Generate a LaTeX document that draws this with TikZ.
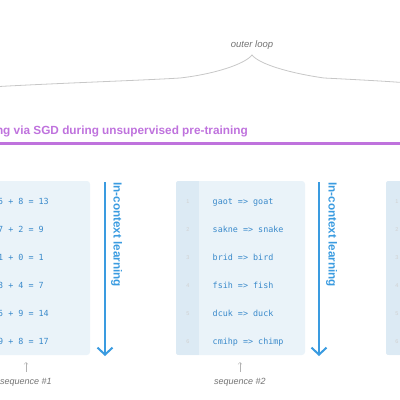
\documentclass[tikz,border=0pt]{standalone}
\usepackage{fontspec}
\setmainfont{Liberation Sans}
\setmonofont{DejaVu Sans Mono}
\usetikzlibrary{arrows.meta}
\definecolor{seqbg}{HTML}{EAF3F9}
\definecolor{numbg}{HTML}{DCEAF4}
\definecolor{codeblue}{HTML}{3A8ACB}
\definecolor{arrblue}{HTML}{3A9BE0}
\definecolor{sgdpurple}{HTML}{BF72DD}
\begin{document}
\begin{tikzpicture}[x=1pt,y=-1pt,
  seqbox/.style={fill=seqbg,rounded corners=3pt,minimum height=174pt,inner sep=0pt},
  row/.style={anchor=base west,inner sep=0pt,text=codeblue,font=\fontsize{8.4}{10}\ttfamily},
  lineno/.style={inner sep=0pt,text=black!18,font=\fontsize{5.5}{6}\selectfont},
  icl/.style={line width=2pt,draw=arrblue,-{Straight Barb[length=7pt,width=15pt]}},
  icltext/.style={rotate=-90,anchor=west,inner sep=0pt,text=arrblue,font=\fontsize{11.7}{13}\bfseries},
  seqarrow/.style={draw=black!30,line width=0.5pt,-{Straight Barb[length=2pt,width=4pt]}},
  seqname/.style={anchor=base,inner sep=0pt,text=black!55,font=\fontsize{9}{10}\itshape}]
\useasboundingbox (0,0) rectangle (400,400);
%外层循环
\node[anchor=base,inner sep=0pt,text=black!55,font=\fontsize{9.5}{11}\itshape] (outer) at (252,47.5) {outer loop};
\draw[black!22,line width=0.8pt] (-10,87) .. controls (60,83) and (140,80.5) .. (180,78)
  .. controls (215,74) and (245,64) .. (252,55)
  .. controls (259,64) and (289,73) .. (324,78)
  .. controls (364,80) and (400,82) .. (420,84);
%预训练
\node[anchor=base east,inner sep=0pt,text=sgdpurple,font=\fontsize{11.8}{13}\bfseries] (sgd) at (248,134) {ng via SGD during unsupervised pre-training};
\draw[sgdpurple,line width=3pt] (-10,143) -- (410,143);
%序列框
\node[seqbox,minimum width=160pt] (seq1) at (10,268) {};
\node[seqbox,minimum width=129pt] (seq2) at (240.5,268) {};
\node[seqbox,minimum width=129pt] (seq3) at (450.5,268) {};
\foreach \b in {seq2,seq3}{
  \begin{scope}
    \clip[rounded corners=3pt] (\b.north west) rectangle (\b.south east);
    \fill[numbg] (\b.north west) rectangle ([xshift=23pt]\b.south west);
  \end{scope}}
%序列内容
\foreach \t [count=\i] in {5 + 8 = 13,7 + 2 = 9,1 + 0 = 1,3 + 4 = 7,5 + 9 = 14,9 + 8 = 17}
  \node[row] (add\i) at (-2,{176.5+28*\i}) {\t};
\foreach \t [count=\i] in {gaot => goat,sakne => snake,brid => bird,fsih => fish,dcuk => duck,cmihp => chimp}
  \node[row] (word\i) at (212.5,{176.5+28*\i}) {\t};
\foreach \i in {1,...,6}{
  \node[lineno] (wnum\i) at (188,{173.5+28*\i}) {\i};
  \node[lineno] (znum\i) at (397,{173.5+28*\i}) {\i};}
%上下文学习
\coordinate (icl1top) at (105,182);
\coordinate (icl1bot) at (105,356);
\coordinate (icl2top) at (319,182);
\coordinate (icl2bot) at (319,356);
\draw[icl] (icl1top) -- (icl1bot);
\draw[icl] (icl2top) -- (icl2bot);
\node[icltext] (icl1) at (116.5,182) {In-context learning};
\node[icltext] (icl2) at (331.5,182) {In-context learning};
%序列名
\coordinate (s1low) at (26,372);
\coordinate (s1up) at (26,362);
\coordinate (s2low) at (240,372);
\coordinate (s2up) at (240,362);
\draw[seqarrow] (s1low) -- (s1up);
\draw[seqarrow] (s2low) -- (s2up);
\node[seqname] (name1) at (26,384) {sequence \#1};
\node[seqname] (name2) at (240,384) {sequence \#2};
\end{tikzpicture}
\end{document}
